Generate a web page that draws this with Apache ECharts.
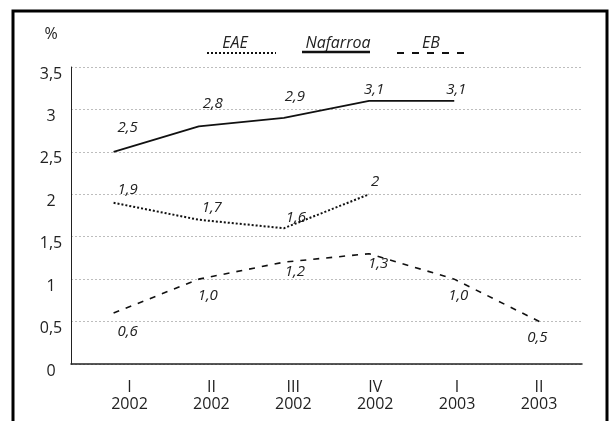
<!DOCTYPE html>
<html>
<head>
<meta charset="utf-8">
<script src="https://cdn.jsdelivr.net/npm/echarts@6/dist/echarts.min.js"></script>
<style>
html,body{margin:0;padding:0;background:#fff;}
#c{width:612px;height:421px;}
</style>
</head>
<body>
<div id="c"></div>
<script>
// ---- data ----
const quarters = ['I', 'II', 'III', 'IV', 'I', 'II'];
const years = ['2002', '2002', '2002', '2002', '2003', '2003'];
const nafarroa = [2.5, 2.8, 2.9, 3.1, 3.1, null];
const eae = [1.9, 1.7, 1.6, 2.0, null, null];
const eb = [0.6, 1.0, 1.2, 1.3, 1.0, 0.5];
const yTicks = [0, 0.5, 1, 1.5, 2, 2.5, 3, 3.5];

// label placement (relative to each point)
const shiftNaf = [[14,-24],[14,-23],[11,-21],[5,-11],[2,-11],[0,0]];
const shiftEae = [[14,-13],[13,-12],[12,-10],[6,-13],[0,0],[0,0]];
const shiftEb  = [[14,19],[9,17],[11,10],[9,10],[4,17],[-2,16]];

const FONT = '"Open Sans", "Noto Sans", sans-serif';
const comma = s => String(s).replace('.', ',');

function build(values, shifts, fmt) {
  return values.map((v, i) => ({
    value: v,
    label: { offset: shifts[i], formatter: () => fmt(v) }
  }));
}

const cats = quarters.map((q, i) => q + '\n' + years[i]);

const chart = echarts.init(document.getElementById('c'), null, {renderer: 'canvas'});

const labelBase = {
  show: true, position: 'inside',
  fontFamily: FONT, fontStyle: 'italic', fontSize: 15, color: '#222'
};

function lineSeries(name, data, dash, width) {
  return {
    name, type: 'line', data, xAxisIndex: 0, yAxisIndex: 0,
    symbol: 'circle', symbolSize: 0.1, showSymbol: true,
    itemStyle: {color: 'rgba(0,0,0,0)'},
    lineStyle: {color: '#111', width: width, type: dash},
    label: labelBase, connectNulls: false, animation: false,
    emphasis: {disabled: true}
  };
}

const option = {
  animation: false,
  grid: {left: 71, right: 30, top: 67, bottom: 57},
  xAxis: [
    {
      type: 'category', data: cats, boundaryGap: true,
      axisLine: {show: true, onZero: false, lineStyle: {color: '#222', width: 1.5}},
      axisTick: {show: false}, axisLabel: {show: false}, splitLine: {show: false}
    },
    {
      type: 'value', position: 'bottom', min: -0.714, max: 5.525,
      axisLine: {show: false, onZero: false}, axisTick: {show: false}, splitLine: {show: false},
      axisLabel: {
        show: true, customValues: [0,1,2,3,4,5],
        formatter: v => cats[Math.round(v)],
        fontFamily: FONT, fontSize: 16, color: '#222', lineHeight: 17, margin: 15
      }
    }
  ],
  yAxis: {
    type: 'value', min: 0, max: 3.5, interval: 0.5,
    axisLine: {show: true, onZero: false, lineStyle: {color: '#222', width: 1}},
    axisTick: {show: false},
    splitLine: {show: true, lineStyle: {color: '#bdbdbd', width: 1, type: [2, 2]}},
    axisLabel: {
      formatter: v => comma(v), fontFamily: FONT, fontSize: 16, color: '#222',
      align: 'center', margin: 20, verticalAlign: 'top', lineHeight: 14
    }
  },
  series: [
    lineSeries('Nafarroa', build(nafarroa, shiftNaf, comma), 'solid', 1.8),
    lineSeries('EAE', build(eae, shiftEae, comma), [2, 2], 2),
    lineSeries('EB', build(eb, shiftEb, v => comma(v.toFixed(1))), [6, 7], 1.6)
  ],
  graphic: [
    {type: 'rect', shape: {x: 13, y: 11, width: 594, height: 440},
     style: {fill: 'none', stroke: '#000', lineWidth: 3}, silent: true},
    {type: 'text', x: 51, y: 34, style: {text: '%', font: '16px ' + FONT, fill: '#222', align: 'center', verticalAlign: 'middle'}},
    {type: 'text', x: 235, y: 43, style: {text: 'EAE', font: 'italic 16px ' + FONT, fill: '#222', align: 'center', verticalAlign: 'middle'}},
    {type: 'line', shape: {x1: 207, y1: 53, x2: 276, y2: 53}, style: {stroke: '#111', lineWidth: 2, lineDash: [2, 2]}},
    {type: 'text', x: 338, y: 43, style: {text: 'Nafarroa', font: 'italic 16px ' + FONT, fill: '#222', align: 'center', verticalAlign: 'middle'}},
    {type: 'line', shape: {x1: 302, y1: 52, x2: 370, y2: 52}, style: {stroke: '#111', lineWidth: 2.5}},
    {type: 'text', x: 431, y: 43, style: {text: 'EB', font: 'italic 16px ' + FONT, fill: '#222', align: 'center', verticalAlign: 'middle'}},
    {type: 'line', shape: {x1: 397, y1: 53, x2: 465, y2: 53}, style: {stroke: '#111', lineWidth: 2, lineDash: [7, 8]}}
  ]
};
chart.setOption(option);
</script>
</body>
</html>
